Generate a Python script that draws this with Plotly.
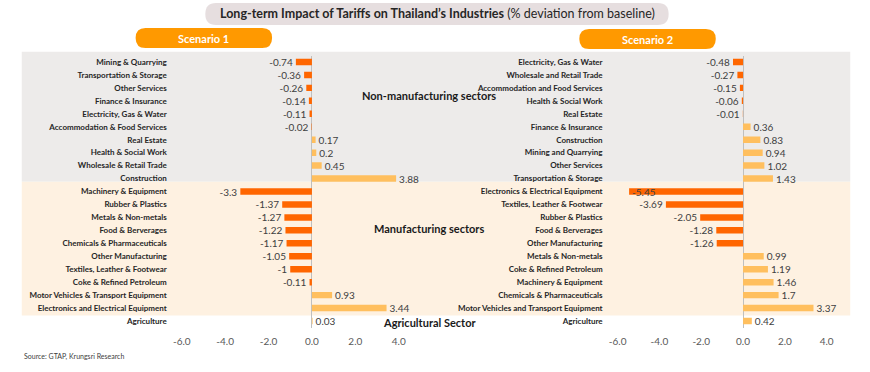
import plotly.graph_objects as go

# ---------------- data ----------------
s1_labels = ["Mining & Quarrying", "Transportation & Storage", "Other Services",
             "Finance & Insurance", "Electricity, Gas & Water", "Accommodation & Food Services",
             "Real Estate", "Health & Social Work", "Wholesale & Retail Trade", "Construction",
             "Machinery & Equipment", "Rubber & Plastics", "Metals & Non-metals",
             "Food & Berverages", "Chemicals & Pharmaceuticals", "Other Manufacturing",
             "Textiles, Leather & Footwear", "Coke & Refined Petroleum",
             "Motor Vehicles & Transport Equipment", "Electronics and Electrical Equipment",
             "Agriculture"]
s1_values = [-0.74, -0.36, -0.26, -0.14, -0.11, -0.02, 0.17, 0.2, 0.45, 3.88,
             -3.3, -1.37, -1.27, -1.22, -1.17, -1.05, -1, -0.11, 0.93, 3.44, 0.03]

s2_labels = ["Electricity, Gas & Water", "Wholesale and Retail Trade",
             "Accommodation and Food Services", "Health & Social Work", "Real Estate",
             "Finance & Insurance", "Construction", "Mining and Quarrying", "Other Services",
             "Transportation & Storage", "Electronics & Electrical Equipment",
             "Textiles, Leather & Footwear", "Rubber & Plastics", "Food & Berverages",
             "Other Manufacturing", "Metals & Non-metals", "Coke & Refined Petroleum",
             "Machinery & Equipment", "Chemicals & Pharmaceuticals",
             "Motor Vehicles and Transport Equipment", "Agriculture"]
s2_values = [-0.48, -0.27, -0.15, -0.06, -0.01, 0.36, 0.83, 0.94, 1.02, 1.43,
             -5.45, -3.69, -2.05, -1.28, -1.26, 0.99, 1.19, 1.46, 1.7, 3.37, 0.42]

tick_vals = [-6, -4, -2, 0, 2, 4]
tick_text = ["-6.0", "-4.0", "-2.0", "0.0", "2.0", "4.0"]

group_names = ["Non-manufacturing sectors", "Manufacturing sectors", "Agricultural Sector"]

# ---------------- style ----------------
W, H = 870, 372
NEG = "#FF6600"
POS = "#FFBF5E"
GRAY_BG = "#EDEBEA"
BEIGE_BG = "#FEF1E1"
FONT = "Lato"


def px(x):
    return x / W


def py(y):
    return 1 - y / H


def colors(vals):
    return [NEG if v < 0 else POS for v in vals]


def positions(vals, xmin=-6):
    return ["inside" if v < xmin + 1 else "outside" for v in vals]


idx = list(range(len(s1_labels)))

fig = go.Figure()

for vals, xa, ya in [(s1_values, "x", "y"), (s2_values, "x2", "y2")]:
    fig.add_trace(go.Bar(
        x=vals, y=idx, orientation="h", xaxis=xa, yaxis=ya,
        marker=dict(color=colors(vals), line=dict(width=0)),
        width=0.5,
        text=[str(v) for v in vals], textposition=positions(vals), constraintext="none",
        insidetextanchor="end",
        textfont=dict(family=FONT, size=10, color="#404040"),
        insidetextfont=dict(family=FONT, size=10, color="#404040"),
        cliponaxis=False, showlegend=False, hoverinfo="skip",
    ))

y_top, y_bot = 55.5, 327.5
ydom = [py(y_bot), py(y_top)]

common_x = dict(range=[-6, 4], tickvals=tick_vals, ticktext=tick_text,
                tickfont=dict(family="Liberation Sans Narrow, " + FONT, size=10, color="#595959"),
                showgrid=False, zeroline=True, zerolinecolor="#BFBFBF", zerolinewidth=1,
                showline=False, ticks="", ticklabelstandoff=6, fixedrange=True)
common_y = dict(range=[20.5, -0.5], tickmode="array", tickvals=idx, showgrid=False,
                zeroline=False, showline=False, ticks="", domain=ydom,
                tickfont=dict(family=FONT, size=8, color="#262626", weight="bold"),
                ticklabelstandoff=14, fixedrange=True)

fig.update_layout(
    width=W, height=H,
    margin=dict(l=0, r=0, t=0, b=0),
    paper_bgcolor="white", plot_bgcolor="rgba(0,0,0,0)",
    xaxis=dict(domain=[px(176), px(397)], anchor="y", **common_x),
    xaxis2=dict(domain=[px(620), px(833)], anchor="y2", **common_x),
    yaxis=dict(anchor="x", ticktext=s1_labels, **common_y),
    yaxis2=dict(anchor="x2", ticktext=s2_labels, **common_y),
    bargap=0.5,
    font=dict(family=FONT),
)

shapes = [
    dict(type="rect", xref="paper", yref="paper", x0=px(13), x1=px(857),
         y0=py(181.7), y1=py(51.7), fillcolor=GRAY_BG, line=dict(width=0), layer="below"),
    dict(type="rect", xref="paper", yref="paper", x0=px(13), x1=px(857),
         y0=py(315.5), y1=py(181.7), fillcolor=BEIGE_BG, line=dict(width=0), layer="below"),
]


def rounded_rect(x0, y0, x1, y1, r, color):
    def P(x, y):
        return f"{px(x)},{py(y)}"
    path = (f"M {P(x0 + r, y0)} L {P(x1 - r, y0)} Q {P(x1, y0)} {P(x1, y0 + r)} "
            f"L {P(x1, y1 - r)} Q {P(x1, y1)} {P(x1 - r, y1)} L {P(x0 + r, y1)} "
            f"Q {P(x0, y1)} {P(x0, y1 - r)} L {P(x0, y0 + r)} Q {P(x0, y0)} {P(x0 + r, y0)} Z")
    return dict(type="path", xref="paper", yref="paper", path=path,
                fillcolor=color, line=dict(width=0), layer="below")


shapes.append(rounded_rect(200, 3, 672, 25, 11, "#E6DEDF"))
shapes.append(rounded_rect(129, 28, 268, 48, 10, "#FF9900"))
shapes.append(rounded_rect(581, 29, 720, 49, 10, "#FF9900"))
fig.update_layout(shapes=shapes)

ann = []
ann.append(dict(xref="paper", yref="paper", x=px(437), y=py(14), showarrow=False,
                text="<b>Long-term Impact of Tariffs on Thailand’s Industries</b> (% deviation from baseline)",
                font=dict(family=FONT, size=12.5, color="#262626"), xanchor="center", yanchor="middle"))
ann.append(dict(xref="paper", yref="paper", x=px(198.5), y=py(38), showarrow=False,
                text="<b>Scenario 1</b>", font=dict(family=FONT, size=11, color="white"),
                xanchor="center", yanchor="middle"))
ann.append(dict(xref="paper", yref="paper", x=px(650.5), y=py(39), showarrow=False,
                text="<b>Scenario 2</b>", font=dict(family=FONT, size=11, color="white"),
                xanchor="center", yanchor="middle"))
for name, yy in zip(group_names, [95, 228, 322]):
    ann.append(dict(xref="paper", yref="paper", x=px(428), y=py(yy), showarrow=False,
                    text=f"<b>{name}</b>", font=dict(family=FONT, size=11, color="#1a1a1a"),
                    xanchor="center", yanchor="middle"))
ann.append(dict(xref="paper", yref="paper", x=px(13), y=py(356), showarrow=False,
                text="Source: GTAP, Krungsri Research",
                font=dict(family="Liberation Sans Narrow, " + FONT, size=7, color="#404040"),
                xanchor="left", yanchor="middle"))
fig.update_layout(annotations=ann)

fig.write_html(
    "out.html",
    config={"displayModeBar": False, "staticPlot": True},
    post_script=("document.body.style.margin='0px';"
                 "document.body.style.overflow='hidden';"
                 "document.documentElement.style.overflow='hidden';"),
)
